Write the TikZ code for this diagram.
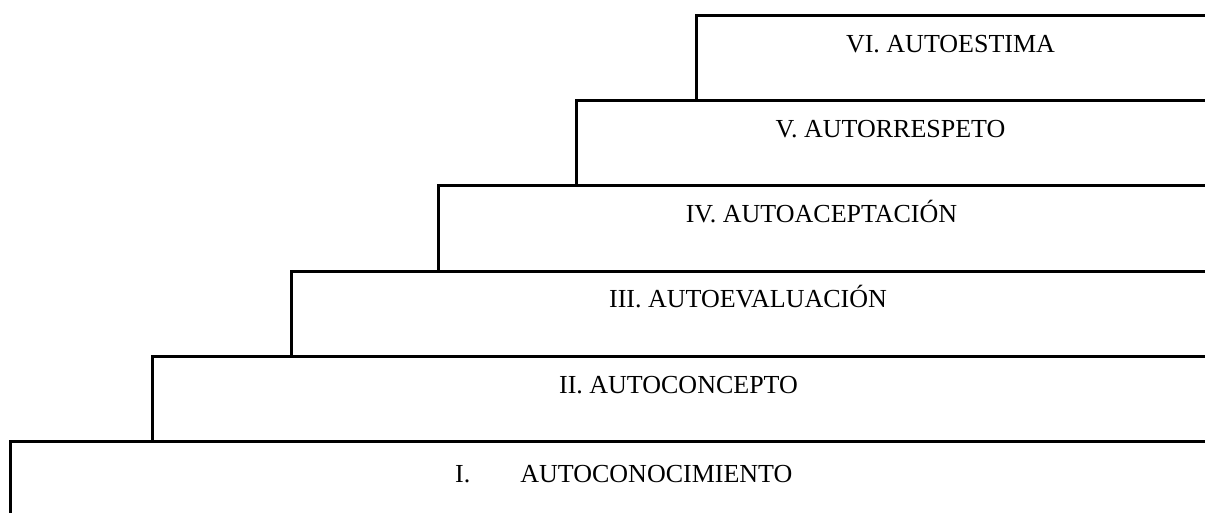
\documentclass[tikz,border=0pt]{standalone}
\usepackage{fontspec}
\setmainfont{Liberation Serif}
\begin{document}
\begin{tikzpicture}[x=1pt,y=-1pt,
  stepline/.style={line width=3pt, line join=miter, line cap=rect},
  steplabel/.style={font=\fontsize{26}{30}\selectfont, inner sep=0pt, anchor=base}]
\useasboundingbox (0,0) rectangle (1205,512);
\clip (0,0) rectangle (1205,512);
% step outlines
\draw[stepline] (10.5,520) -- (10.5,441.5) -- (1210,441.5);
\draw[stepline] (152,441.5) -- (152,356.5) -- (1210,356.5);
\draw[stepline] (291,356.5) -- (291,271) -- (1210,271);
\draw[stepline] (438,271) -- (438,185.5) -- (1210,185.5);
\draw[stepline] (576,185.5) -- (576,100) -- (1210,100);
\draw[stepline] (696,100) -- (696,15) -- (1210,15);
% labels
\node[steplabel, anchor=base west] (s1) at (455,482) {I.\hspace{50pt}AUTOCONOCIMIENTO};
\node[steplabel] (s2) at (678.5,393) {II. AUTOCONCEPTO};
\node[steplabel] (s3) at (748,307.5) {III. AUTOEVALUACIÓN};
\node[steplabel] (s4) at (821.5,222.5) {IV. AUTOACEPTACIÓN};
\node[steplabel] (s5) at (890.5,137.5) {V. AUTORRESPETO};
\node[steplabel] (s6) at (950.5,52) {VI. AUTOESTIMA};
\end{tikzpicture}
\end{document}
